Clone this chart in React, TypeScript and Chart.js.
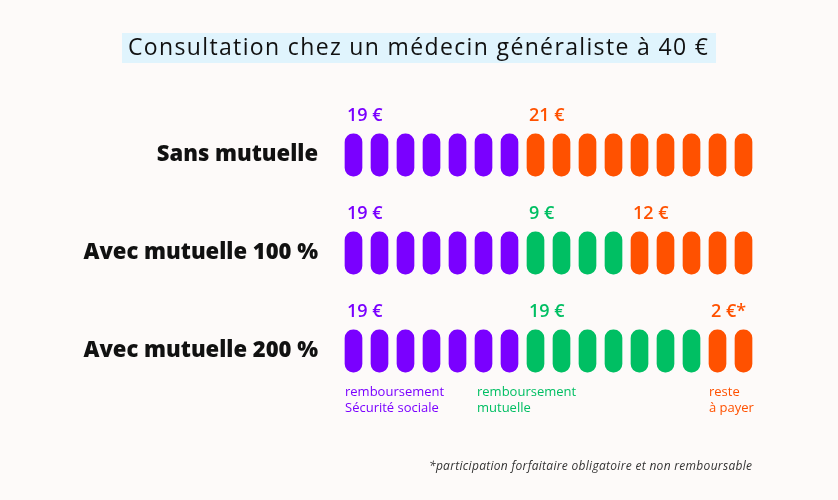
import React, { useEffect, useRef } from "react";
import { Chart, registerables } from "chart.js";

Chart.register(...registerables);

// ---- data ----
const titleText = "Consultation chez un médecin généraliste à 40 €";
const rowLabels = ["Sans mutuelle", "Avec mutuelle 100 %", "Avec mutuelle 200 %"];
const pillSlots = ["1", "2", "3", "4", "5", "6", "7", "8", "9", "10", "11", "12", "13", "14", "15", "16"];
const securiteValues = [19, 19, 19];
const mutuelleValues = [0, 9, 19];
const resteValues = [21, 12, 2];
const resteSuffix = ["", "", "*"];
const securitePills = [7, 7, 7];
const mutuellePills = [0, 4, 7];
const restePills = [9, 5, 2];
const captionSecurite = ["remboursement", "Sécurité sociale"];
const captionMutuelle = ["remboursement", "mutuelle"];
const captionReste = ["reste", "à payer"];
const captionSlots = [0, 5, 14];
const footnote = "*participation forfaitaire obligatoire et non remboursable";

// ---- styles ----
const PURPLE = "#7A00FF";
const GREEN = "#00BF63";
const ORANGE = "#FF5100";
const BG = "#FDFAF9";
const TITLE_BG = "#E0F4FD";
const DARK = "#111111";
const PILL_HALF = 0.215;
const FONT = "'Open Sans', 'Noto Sans', sans-serif";

type Seg = { row: number; start: number; count: number; color: string; value: number; suffix: string };

function buildSegments(): Seg[] {
  const segs: Seg[] = [];
  rowLabels.forEach((_, r) => {
    let s = 0;
    segs.push({ row: r, start: s, count: securitePills[r], color: PURPLE, value: securiteValues[r], suffix: "" });
    s += securitePills[r];
    segs.push({ row: r, start: s, count: mutuellePills[r], color: GREEN, value: mutuelleValues[r], suffix: "" });
    s += mutuellePills[r];
    segs.push({ row: r, start: s, count: restePills[r], color: ORANGE, value: resteValues[r], suffix: resteSuffix[r] });
  });
  return segs.filter((g) => g.count > 0);
}

function fitText(ctx: any, text: string, x: number, y: number, width: number) {
  ctx.letterSpacing = "0px";
  const w = ctx.measureText(text).width;
  const n = Math.max(1, text.length - 1);
  const sp = Math.max(0, (width - w) / n);
  ctx.letterSpacing = `${sp}px`;
  ctx.fillText(text, x, y);
  ctx.letterSpacing = "0px";
}

export default function App() {
  const ref = useRef<HTMLCanvasElement | null>(null);

  useEffect(() => {
    if (!ref.current) return;
    const segs = buildSegments();
    const datasets = segs.map((g) => ({
      label: `${rowLabels[g.row]}-${g.color}`,
      data: pillSlots.map((_, i) =>
        i >= g.start && i < g.start + g.count ? [g.row - PILL_HALF, g.row + PILL_HALF] : null
      ),
      backgroundColor: g.color,
      borderWidth: 0,
      borderRadius: 20,
      borderSkipped: false,
      barThickness: 17,
    }));

    const overlay = {
      id: "overlay",
      beforeDraw(chart: any) {
        const ctx = chart.ctx as CanvasRenderingContext2D;
        ctx.save();
        ctx.fillStyle = BG;
        ctx.fillRect(0, 0, chart.width, chart.height);
        ctx.fillStyle = TITLE_BG;
        ctx.fillRect(122, 33, 594, 30);
        ctx.fillStyle = DARK;
        ctx.font = `500 23px ${FONT}`;
        ctx.textAlign = "left";
        ctx.textBaseline = "middle";
        fitText(ctx, titleText, 128, 48, 580);
        ctx.restore();
      },
      afterDatasetsDraw(chart: any) {
        const ctx = chart.ctx as CanvasRenderingContext2D;
        ctx.save();
        ctx.textAlign = "left";
        ctx.textBaseline = "middle";
        segs.forEach((g, di) => {
          const el = chart.getDatasetMeta(di).data[g.start] as any;
          if (!el) return;
          const left = el.x - el.width / 2;
          const top = Math.min(el.y, el.base);
          ctx.fillStyle = g.color;
          ctx.font = `600 18px ${FONT}`;
          ctx.fillText(`${g.value} €${g.suffix}`, left + 2, top - 18);
        });
        // captions under last row
        const lastRow = rowLabels.length - 1;
        const caps = [
          { lines: captionSecurite, color: PURPLE, slot: captionSlots[0] },
          { lines: captionMutuelle, color: GREEN, slot: captionSlots[1] },
          { lines: captionReste, color: ORANGE, slot: captionSlots[2] },
        ];
        const lastDs = segs.findIndex((g) => g.row === lastRow);
        const refEl = chart.getDatasetMeta(lastDs).data[0] as any;
        const bottom = Math.max(refEl.y, refEl.base);
        const xs = chart.scales.x;
        caps.forEach((c, ci) => {
          ctx.fillStyle = c.color;
          ctx.font = `500 13px ${FONT}`;
          const x = xs.getPixelForValue(c.slot) - 8.5 + (ci === 1 ? 2 : 0);
          c.lines.forEach((ln, i) => ctx.fillText(ln, x, bottom + 20 + i * 16));
        });
        ctx.fillStyle = "#333333";
        ctx.font = `italic 12px ${FONT}`;
        ctx.textAlign = "left";
        fitText(ctx, footnote, 429, 467, 323);
        ctx.restore();
      },
    };

    const chart = new Chart(ref.current, {
      type: "bar",
      data: { labels: pillSlots, datasets: datasets as any },
      options: {
        animation: false,
        responsive: true,
        maintainAspectRatio: false,
        layout: { padding: { left: 0, right: 81.5, top: 106, bottom: 100 } },
        plugins: { legend: { display: false }, title: { display: false }, tooltip: { enabled: false } },
        scales: {
          x: {
            stacked: true,
            display: false,
            grid: { display: false },
          },
          y: {
            stacked: false,
            type: "linear",
            min: -0.5,
            max: 2.5,
            reverse: true,
            grid: { display: false },
            border: { display: false },
            afterBuildTicks: (scale: any) => {
              scale.ticks = rowLabels.map((_, i) => ({ value: i }));
            },
            afterFit: (scale: any) => {
              scale.width = 340.5;
            },
            ticks: {
              padding: 14.5,
              color: DARK,
              font: { family: FONT, size: 22, weight: "800" },
              callback: (v: any) => rowLabels[v as number] ?? "",
            },
          },
        },
      },
      plugins: [overlay],
    });
    return () => chart.destroy();
  }, []);

  return (
    <div style={{ position: "fixed", left: 0, top: 0, width: 838, height: 500, background: BG }}>
      <canvas ref={ref} />
    </div>
  );
}
